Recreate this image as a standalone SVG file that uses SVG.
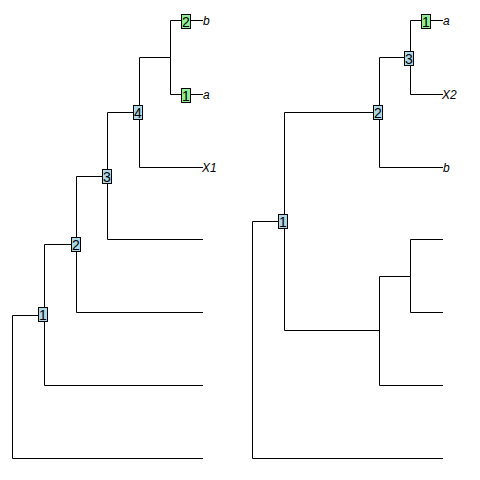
<svg xmlns="http://www.w3.org/2000/svg" width="480" height="480" viewBox="0 0 480 480">
<style>
.e{fill:none;stroke:#000;stroke-width:1}
.nb{fill:#ADD8E6;stroke:#000;stroke-width:1}
.gb{fill:#90EE90;stroke:#000;stroke-width:1}
.d{font-family:"Liberation Sans",Arial,sans-serif;font-size:14px;fill:#000;text-anchor:middle}
.t{font-family:"Liberation Sans",Arial,sans-serif;font-size:12px;font-style:italic;fill:#000}
</style>
<rect width="480" height="480" fill="#fff"/>
<g id="connectors">
<path class="e" d="M12.5 315.5V458.5M12.5 315.5H44.5M12.5 458.5H203
M44.5 244.5V385.5M44.5 244.5H76.5M44.5 385.5H203
M76.5 176.5V312.5M76.5 176.5H107.5M76.5 312.5H203
M107.5 112.5V239.5M107.5 112.5H139.5M107.5 239.5H203
M139.5 57.5V167.5M139.5 57.5H170.5M139.5 167.5H203
M170.5 20.5V94.5M170.5 20.5H203M170.5 94.5H203"/>
<path class="e" d="M252.5 221.5V458.5M252.5 221.5H284.5M252.5 458.5H443
M284.5 112.5V330.5M284.5 112.5H379.5M284.5 330.5H379.5
M379.5 57.5V167.5M379.5 57.5H410.5M379.5 167.5H443
M410.5 20.5V94.5M410.5 20.5H443M410.5 94.5H443
M379.5 276.5V385.5M379.5 276.5H410.5M379.5 385.5H443
M410.5 239.5V312.5M410.5 239.5H443M410.5 312.5H443"/>
</g>
<g id="L-node1"><rect class="nb" x="38.5" y="307.5" width="9" height="14"/><text class="d" x="43" y="319.5">1</text></g>
<g id="L-node2"><rect class="nb" x="71.5" y="237.5" width="9" height="14"/><text class="d" x="76" y="249.5">2</text></g>
<g id="L-node3"><rect class="nb" x="102.5" y="169.5" width="9" height="14"/><text class="d" x="107" y="181.5">3</text></g>
<g id="L-node4"><rect class="nb" x="133.5" y="105.5" width="9" height="14"/><text class="d" x="138" y="117.5">4</text></g>
<g id="L-edge2"><rect class="gb" x="181.5" y="14.5" width="9" height="14"/><text class="d" x="186" y="26.5">2</text></g>
<g id="L-edge1"><rect class="gb" x="181.5" y="88.5" width="9" height="14"/><text class="d" x="186" y="100.5">1</text></g>
<g id="L-tip-b"><text class="t" x="203" y="25">b</text></g>
<g id="L-tip-a"><text class="t" x="203" y="99">a</text></g>
<g id="L-tip-X1"><text class="t" x="202" y="172">X1</text></g>
<g id="R-node1"><rect class="nb" x="278.5" y="214.5" width="9" height="14"/><text class="d" x="283" y="226.5">1</text></g>
<g id="R-node2"><rect class="nb" x="373.5" y="105.5" width="9" height="14"/><text class="d" x="378" y="117.5">2</text></g>
<g id="R-node3"><rect class="nb" x="404.5" y="51.5" width="9" height="14"/><text class="d" x="409" y="63.5">3</text></g>
<g id="R-edge1"><rect class="gb" x="421.5" y="14.5" width="9" height="14"/><text class="d" x="426" y="26.5">1</text></g>
<g id="R-tip-a"><text class="t" x="443" y="25">a</text></g>
<g id="R-tip-X2"><text class="t" x="442" y="99">X2</text></g>
<g id="R-tip-b"><text class="t" x="443" y="172">b</text></g>
</svg>
